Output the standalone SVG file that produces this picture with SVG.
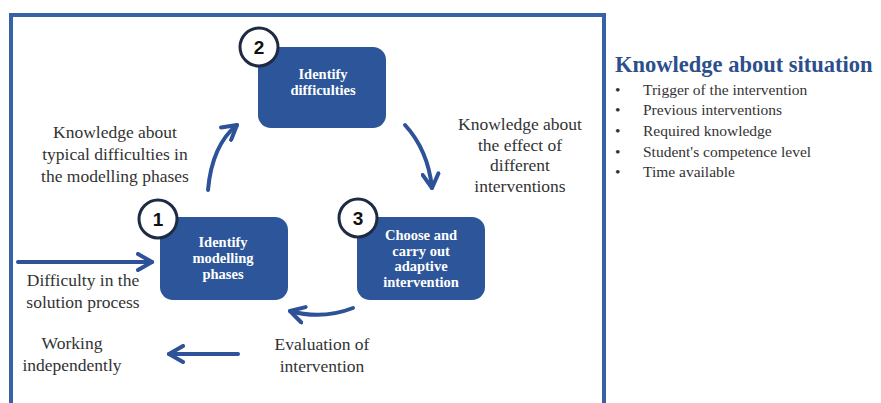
<svg xmlns="http://www.w3.org/2000/svg" width="881" height="403" viewBox="0 0 881 403">
<defs>
<style>
.frame{fill:none;stroke:#3762a6;stroke-width:4}
.box{fill:#2c5699}
.num{fill:#fff;stroke:#1f2b45;stroke-width:3}
.numt{font-family:"Liberation Sans",Arial,sans-serif;font-weight:bold;font-size:19px;fill:#111;text-anchor:middle}
.bt{font-family:"Liberation Serif","Times New Roman",serif;font-weight:bold;font-size:14.5px;fill:#fff;text-anchor:middle}
.lbl{font-family:"Liberation Serif","Times New Roman",serif;font-size:17.5px;fill:#333;text-anchor:middle}
.conn{fill:none;stroke:#2d5298;stroke-width:4;stroke-linecap:round}
.title{font-family:"Liberation Serif","Times New Roman",serif;font-weight:bold;font-size:22.5px;fill:#2c4f8c}
.li{font-family:"Liberation Serif","Times New Roman",serif;font-size:15.5px;fill:#333}
</style>
<marker id="ah" viewBox="0 0 10 10" refX="8" refY="5" markerWidth="5" markerHeight="5" orient="auto" markerUnits="strokeWidth">
<path d="M1,1 L8,5 L1,9" fill="none" stroke="#2d5298" stroke-width="2" stroke-linecap="round" stroke-linejoin="round"/>
</marker>
</defs>
<rect width="881" height="403" fill="#fff"/>
<rect class="frame" x="11" y="15" width="593" height="420"/>

<g id="connectors">
<path class="conn" d="M208,190 Q212,145 237,125" marker-end="url(#ah)"/>
<path class="conn" d="M405,125 Q428,150 432,188" marker-end="url(#ah)"/>
<path class="conn" d="M353,308 Q322,320 290,311" marker-end="url(#ah)"/>
<path class="conn" d="M18,262 L152,262" marker-end="url(#ah)"/>
<path class="conn" d="M238,354 L169,354" marker-end="url(#ah)"/>
</g>

<g id="node2">
<rect class="box" x="258" y="47" width="128" height="81" rx="13"/>
<circle class="num" cx="259" cy="47" r="19"/>
<text class="numt" x="259" y="54">2</text>
<text class="bt" x="323" y="79">Identify</text>
<text class="bt" x="323" y="95">difficulties</text>
</g>

<g id="node1">
<rect class="box" x="160" y="217" width="128" height="83" rx="13"/>
<circle class="num" cx="158" cy="219" r="19"/>
<text class="numt" x="158" y="226">1</text>
<text class="bt" x="223" y="247">Identify</text>
<text class="bt" x="223" y="263">modelling</text>
<text class="bt" x="223" y="279">phases</text>
</g>

<g id="node3">
<rect class="box" x="357" y="217" width="128" height="83" rx="13"/>
<circle class="num" cx="358" cy="218" r="19"/>
<text class="numt" x="358" y="225">3</text>
<text class="bt" x="421" y="240">Choose and</text>
<text class="bt" x="421" y="256">carry out</text>
<text class="bt" x="421" y="271">adaptive</text>
<text class="bt" x="421" y="287">intervention</text>
</g>

<g id="labels">
<text class="lbl" x="115" y="138">Knowledge about</text>
<text class="lbl" x="115" y="160">typical difficulties in</text>
<text class="lbl" x="115" y="182">the modelling phases</text>
<text class="lbl" x="520" y="130">Knowledge about</text>
<text class="lbl" x="520" y="151">the effect of</text>
<text class="lbl" x="520" y="171">different</text>
<text class="lbl" x="520" y="192">interventions</text>
<text class="lbl" x="83" y="286">Difficulty in the</text>
<text class="lbl" x="83" y="308">solution process</text>
<text class="lbl" x="72" y="349">Working</text>
<text class="lbl" x="72" y="371">independently</text>
<text class="lbl" x="322" y="350">Evaluation of</text>
<text class="lbl" x="322" y="372">intervention</text>
</g>

<g id="situation">
<text class="title" x="615" y="72">Knowledge about situation</text>
<text class="li" x="615" y="95">•</text><text class="li" x="643" y="95">Trigger of the intervention</text>
<text class="li" x="615" y="115">•</text><text class="li" x="643" y="115">Previous interventions</text>
<text class="li" x="615" y="136">•</text><text class="li" x="643" y="136">Required knowledge</text>
<text class="li" x="615" y="157">•</text><text class="li" x="643" y="157">Student's competence level</text>
<text class="li" x="615" y="177">•</text><text class="li" x="643" y="177">Time available</text>
</g>
</svg>
